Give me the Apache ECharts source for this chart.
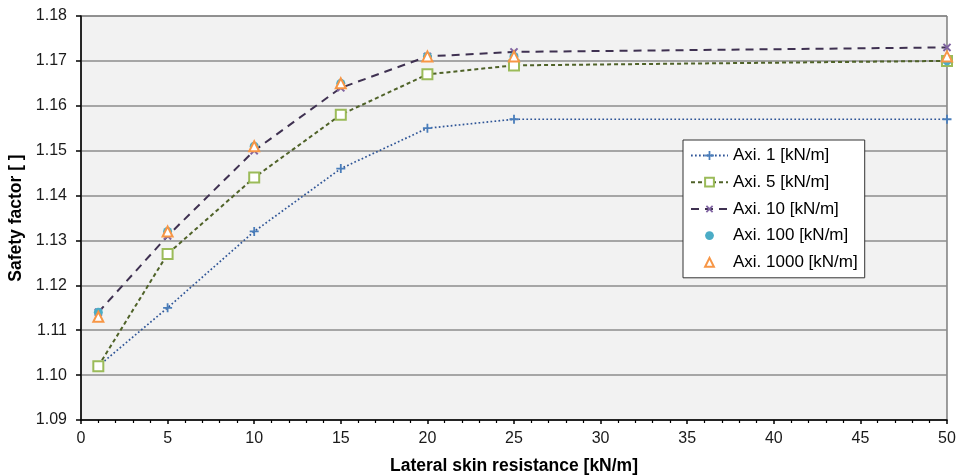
<!DOCTYPE html>
<html>
<head>
<meta charset="utf-8">
<script src="https://cdn.jsdelivr.net/npm/echarts@6/dist/echarts.min.js"></script>
<style>
  html, body { margin: 0; padding: 0; background: #ffffff; }
  #chart { width: 960px; height: 476px; }
</style>
</head>
<body>
<div id="chart"></div>
<script>
// Lateral skin resistance [kN/m]
const resistance = [1, 5, 10, 15, 20, 25, 50];

// Safety factor for each axial stiffness
const axi1    = [1.102, 1.115, 1.132, 1.146, 1.155, 1.157, 1.157];
const axi5    = [1.102, 1.127, 1.144, 1.158, 1.167, 1.169, 1.170];
const axi10   = [1.114, 1.131, 1.150, 1.164, 1.171, 1.172, 1.173];
const axi100  = [1.114, 1.132, 1.151, 1.165, 1.171, 1.171, 1.170];
const axi1000 = [1.113, 1.132, 1.151, 1.165, 1.171, 1.171, 1.171];

const seriesNames = ['Axi. 1 [kN/m]', 'Axi. 5 [kN/m]', 'Axi. 10 [kN/m]', 'Axi. 100 [kN/m]', 'Axi. 1000 [kN/m]'];

const pairs = (ys) => resistance.map((x, i) => [x, ys[i]]);

const FONT = "'Liberation Sans', Arial, sans-serif";
const PLUS = 'path://M4,0H6V4H10V6H6V10H4V6H0V4H4Z';

const chart = echarts.init(document.getElementById('chart'), null, { renderer: 'canvas' });

chart.setOption({
  animation: false,
  backgroundColor: '#ffffff',
  grid: {
    left: 81, right: 13, top: 16, bottom: 56,
    containLabel: false,
    outerBoundsMode: 'none',
    show: true,
    backgroundColor: '#f2f2f2',
    borderColor: '#404040',
    borderWidth: 1
  },
  legend: {
    left: 683, top: 140,
    orient: 'vertical',
    backgroundColor: '#ffffff',
    borderColor: '#333333',
    borderWidth: 1,
    padding: [7, 7, 7, 7],
    itemWidth: 37,
    itemHeight: 11,
    itemGap: 9.7,
    selectedMode: false,
    textStyle: { fontFamily: FONT, fontSize: 17, color: '#000000' },
    data: seriesNames
  },
  xAxis: {
    type: 'value',
    min: 0, max: 50, interval: 5,
    name: 'Lateral skin resistance [kN/m]',
    nameLocation: 'middle',
    nameGap: 37,
    nameTextStyle: { fontFamily: FONT, fontWeight: 'bold', fontSize: 17.5, color: '#000000' },
    axisLine: { show: true, lineStyle: { color: '#000000', width: 1.5 } },
    axisTick: { show: true, inside: false, length: 4, lineStyle: { color: '#000000', width: 1.5 } },
    minorTick: { show: true, splitNumber: 5, length: 3, lineStyle: { color: '#000000', width: 1.2 } },
    axisLabel: { fontFamily: FONT, fontSize: 16, color: '#1a1a1a', margin: 11 },
    splitLine: { show: false }
  },
  yAxis: {
    type: 'value',
    min: 1.09, max: 1.18, interval: 0.01,
    name: 'Safety factor [ ]',
    nameLocation: 'middle',
    nameGap: 55,
    nameTextStyle: { fontFamily: FONT, fontWeight: 'bold', fontSize: 17.5, color: '#000000' },
    axisLine: { show: true, lineStyle: { color: '#000000', width: 1.5 } },
    axisTick: { show: true, inside: false, length: 5, lineStyle: { color: '#000000', width: 1.5 } },
    axisLabel: {
      fontFamily: FONT, fontSize: 16, color: '#1a1a1a', margin: 14,
      formatter: (v) => v.toFixed(2)
    },
    splitLine: { show: true, lineStyle: { color: '#8c8c8c', width: 1.5 } }
  },
  series: [
    {
      name: seriesNames[0], type: 'line', data: pairs(axi1),
      symbol: PLUS, symbolSize: 9,
      lineStyle: { color: '#2f5597', width: 1.7, type: [1.7, 2.3] },
      itemStyle: { color: '#4a7ebb' }
    },
    {
      name: seriesNames[1], type: 'line', data: pairs(axi5),
      symbol: 'rect', symbolSize: 10,
      lineStyle: { color: '#4f6228', width: 2, type: [4, 3] },
      itemStyle: { color: '#ffffff', borderColor: '#9bbb59', borderWidth: 2 }
    },
    {
      name: seriesNames[2], type: 'line', data: pairs(axi10),
      symbol: PLUS, symbolSize: 10, symbolRotate: 45,
      lineStyle: { color: '#3f3151', width: 2, type: [8, 6] },
      itemStyle: { color: '#8064a2' }
    },
    {
      name: seriesNames[3], type: 'line', data: pairs(axi100),
      symbol: 'circle', symbolSize: 9,
      lineStyle: { opacity: 0 },
      itemStyle: { color: '#4bacc6' }
    },
    {
      name: seriesNames[4], type: 'line', data: pairs(axi1000),
      symbol: 'triangle', symbolSize: 10,
      lineStyle: { opacity: 0 },
      itemStyle: { color: '#ffffff', borderColor: '#f79646', borderWidth: 2 }
    }
  ]
});
</script>
</body>
</html>
